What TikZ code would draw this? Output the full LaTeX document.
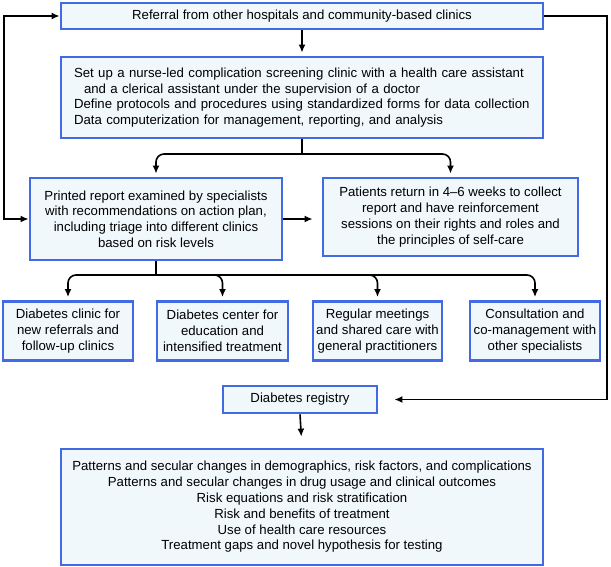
\documentclass[tikz,border=0pt]{standalone}
\usepackage{fontspec}
\setmainfont{Liberation Sans}
\usetikzlibrary{arrows.meta}
\definecolor{boxblue}{RGB}{66,106,228}
\definecolor{boxfill}{RGB}{240,248,252}
\begin{document}
\begin{tikzpicture}[x=1pt,y=-1pt,
  box/.style={draw=boxblue,fill=boxfill,line width=2.8pt,inner sep=0pt,align=center,
    font=\fontsize{13.2}{15.8}\selectfont},
  conn/.style={line width=1.6pt,black},
  arr/.style={conn,-{Latex[length=8pt,width=7pt]}},
  both/.style={conn,{Latex[length=8pt,width=7pt]}-{Latex[length=8pt,width=7pt]}}]
\useasboundingbox (0,0) rectangle (611,567);
\node[box,minimum width=482pt,minimum height=26pt] (ref) at (302,16)
  {Referral from other hospitals and community-based clinics};
\node[box,minimum width=482pt,minimum height=81pt,text width=456pt,align=left] (setup) at (302,97.5)
  {Set up a nurse-led complication screening clinic with a health care assistant\\
   \hspace*{10pt}and a clerical assistant under the supervision of a doctor\\
   Define protocols and procedures using standardized forms for data collection\\
   Data computerization for management, reporting, and analysis};
\node[box,minimum width=252pt,minimum height=82pt] (report) at (156,219)
  {Printed report examined by specialists\\ with recommendations on action plan,\\
   including triage into different clinics\\ based on risk levels};
\node[box,minimum width=255pt,minimum height=78pt] (patients) at (450.5,217)
  {Patients return in 4--6 weeks to collect\\ report and have reinforcement\\
   sessions on their rights and roles and\\ the principles of self-care};
\node[box,minimum width=130pt,minimum height=59pt] (ca) at (68,331)
  {Diabetes clinic for\\ new referrals and\\ follow-up clinics};
\node[box,minimum width=131pt,minimum height=59pt] (cb) at (222.5,331)
  {Diabetes center for\\ education and\\ intensified treatment};
\node[box,minimum width=129pt,minimum height=59pt] (cc) at (377.5,331)
  {Regular meetings\\ and shared care with\\ general practitioners};
\node[box,minimum width=130pt,minimum height=59pt] (cd) at (535,331)
  {Consultation and\\ co-management with\\ other specialists};
\node[box,minimum width=154pt,minimum height=27pt] (reg) at (300,399.5)
  {Diabetes registry};
\node[box,minimum width=482pt,minimum height=116pt] (out) at (302,507)
  {Patterns and secular changes in demographics, risk factors, and complications\\
   Patterns and secular changes in drug usage and clinical outcomes\\
   Risk equations and risk stratification\\
   Risk and benefits of treatment\\
   Use of health care resources\\
   Treatment gaps and novel hypothesis for testing};
% connectors
\coordinate (j1) at (302,154);
\coordinate (j2) at (156,275);
\coordinate (lb) at (4,219);
\coordinate (rt) at (607,16);
\draw[arr,shorten >=3pt] (ref.south) -- (setup.north);
\draw[conn] (setup.south) -- (j1);
\draw[arr,rounded corners=8pt,shorten >=3pt] (j1) -| (report.north);
\draw[arr,rounded corners=8pt,shorten >=3pt] (j1) -| (patients.north);
\draw[arr,shorten >=9pt] (report.east) -- (report.east -| patients.west);
\draw[both] (ref.west) -| (lb) -- (report.west);
\draw[conn] (report.south) -- (j2);
\draw[arr,rounded corners=8pt,shorten >=3pt] (j2) -| (ca.north);
\draw[arr,rounded corners=8pt,shorten >=3pt] (j2) -| (cb.north);
\draw[arr,rounded corners=8pt,shorten >=3pt] (j2) -| (cc.north);
\draw[arr,rounded corners=8pt,shorten >=3pt] (j2) -| (cd.north);
\draw[arr,shorten >=16pt] (ref.east) -- (rt) |- (reg.east);
\draw[arr,shorten >=11pt] (reg.south) -- (out.north);
\end{tikzpicture}
\end{document}
